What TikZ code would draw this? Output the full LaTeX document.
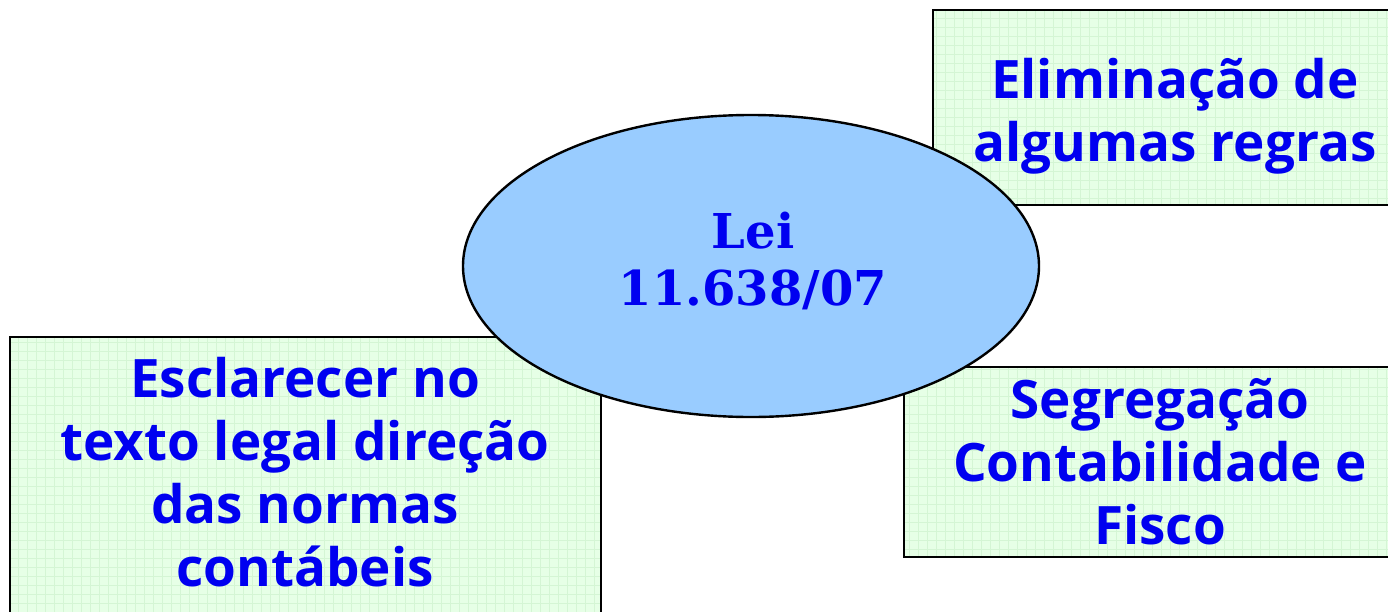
\documentclass[tikz,border=0pt]{standalone}
\usepackage{fontspec}
\setmainfont{Open Sans}
\newfontfamily\leifont{DejaVu Serif}
\definecolor{boxfill}{HTML}{E6FFE6}
\definecolor{gridcol}{HTML}{D4F5D4}
\definecolor{ellfill}{HTML}{99CCFF}
\definecolor{txtblue}{HTML}{0000F0}
\tikzset{
  boxtext/.style={align=center, text=txtblue, font=\fontsize{26.5}{31.5}\selectfont\bfseries, inner sep=0pt},
  leitext/.style={align=center, text=txtblue, font=\leifont\fontsize{24}{28.5}\selectfont\bfseries, inner sep=0pt},
  boxline/.style={draw=black, line width=1.2pt},
  gridline/.style={draw=gridcol, line width=0.3pt}
}
\begin{document}
\begin{tikzpicture}[x=0.5pt,y=-0.5pt]
\useasboundingbox (0,0) rectangle (1388,611);
\begin{scope}
\clip (0,0) rectangle (1388,611);
% top right box
\fill[boxfill] (933,10) rectangle (1400,205);
\begin{scope}\clip (933,10) rectangle (1400,205);
\draw[gridline, step=4.5pt] (933,10) grid (1400,205);\end{scope}
\draw[boxline] (933,10) rectangle (1400,205);
% bottom left box
\fill[boxfill] (10,337) rectangle (601,625);
\begin{scope}\clip (10,337) rectangle (601,625);
\draw[gridline, step=4.5pt] (10,337) grid (601,625);\end{scope}
\draw[boxline] (10,337) rectangle (601,625);
% bottom right box
\fill[boxfill] (904,367) rectangle (1400,557);
\begin{scope}\clip (904,367) rectangle (1400,557);
\draw[gridline, step=4.5pt] (904,367) grid (1400,557);\end{scope}
\draw[boxline] (904,367) rectangle (1400,557);
\node[boxtext] (elim) at (1175,116) {Eliminação de\\algumas regras};
\node[boxtext] (escl) at (305,472) {Esclarecer no\\texto legal direção\\das normas\\contábeis};
\node[boxtext] (segr) at (1160,462) {Segregação\\Contabilidade e\\Fisco};
% ellipse
\draw[fill=ellfill, line width=1.2pt] (751,266) ellipse [x radius=144pt, y radius=75.5pt];
\node[leitext] (lei) at (753,261) {Lei\\11.638/07};
\end{scope}
\end{tikzpicture}
\end{document}
